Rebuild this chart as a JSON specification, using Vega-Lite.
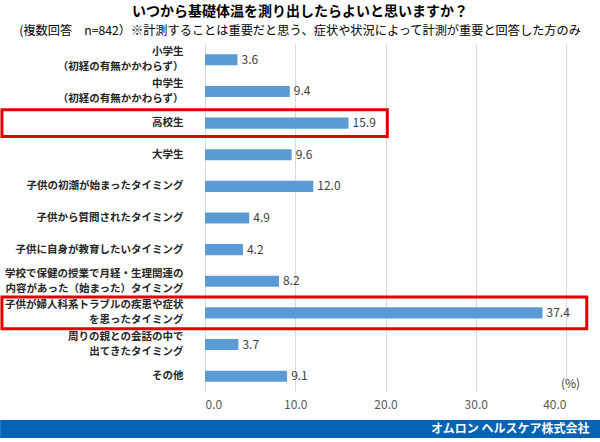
{
  "$schema": "https://vega.github.io/schema/vega-lite/v6.json",
  "background": "white",
  "padding": {"left": 0, "right": 0, "top": 4, "bottom": 4},
  "title": {
    "text": "いつから基礎体温を測り出したらよいと思いますか？",
    "subtitle": "(複数回答　n=842）※計測することは重要だと思う、症状や状況によって計測が重要と回答した方のみ",
    "anchor": "middle",
    "frame": "bounds",
    "font": "Noto Sans CJK JP",
    "fontSize": 14,
    "fontWeight": "bold",
    "color": "#000000",
    "subtitleFont": "Noto Sans CJK JP",
    "subtitleFontSize": 12.2,
    "subtitleColor": "#000000",
    "subtitlePadding": 6,
    "offset": 7
  },
  "config": {
    "font": "Noto Sans CJK JP",
    "view": {"stroke": null},
    "concat": {"spacing": 10}
  },
  "vconcat": [
    {
      "width": 361,
      "height": 348,
      "data": {
        "values": [
          {"label": "小学生|（初経の有無かかわらず）", "value": 3.6},
          {"label": "中学生|（初経の有無かかわらず）", "value": 9.4},
          {"label": "高校生", "value": 15.9},
          {"label": "大学生", "value": 9.6},
          {"label": "子供の初潮が始まったタイミング", "value": 12.0},
          {"label": "子供から質問されたタイミング", "value": 4.9},
          {"label": "子供に自身が教育したいタイミング", "value": 4.2},
          {"label": "学校で保健の授業で月経・生理関連の|内容があった（始まった）タイミング", "value": 8.2},
          {"label": "子供が婦人科系トラブルの疾患や症状|を患ったタイミング", "value": 37.4},
          {"label": "周りの親との会話の中で|出てきたタイミング", "value": 3.7},
          {"label": "その他", "value": 9.1}
        ]
      },
      "encoding": {
        "y": {
          "field": "label",
          "type": "nominal",
          "sort": null,
          "scale": {"paddingInner": 0, "paddingOuter": 0},
          "axis": {
            "title": null,
            "domain": false,
            "ticks": false,
            "grid": false,
            "labelPadding": 22,
            "labelFont": "Noto Sans CJK JP",
            "labelFontSize": 10.5,
            "labelFontWeight": "bold",
            "labelColor": "#262626",
            "labelLineHeight": 15,
            "labelLimit": 300,
            "labelOffset": {"condition": {"test": "indexof(datum.value, '|') >= 0", "value": -7.5}, "value": 0},
            "labelExpr": "split(datum.value, '|')"
          }
        }
      },
      "layer": [
        {
          "mark": {"type": "bar", "color": "#5B9BD5", "height": {"band": 0.35}},
          "encoding": {
            "x": {
              "field": "value",
              "type": "quantitative",
              "scale": {"domain": [0, 40], "nice": false, "zero": true},
              "axis": {
                "values": [0, 10, 20, 30, 40],
                "format": ".1f",
                "grid": true,
                "gridColor": "#d9d9d9",
                "domain": false,
                "ticks": false,
                "labelFont": "Noto Sans CJK JP",
                "labelFontSize": 12,
                "labelColor": "#595959",
                "labelPadding": 7,
                "title": "(%)",
                "titleFont": "Noto Sans CJK JP",
                "titleFontSize": 12,
                "titleFontWeight": "normal",
                "titleColor": "#404040",
                "titleAlign": "center",
                "titleBaseline": "middle",
                "titleX": 365,
                "titleY": -9
              }
            }
          }
        },
        {
          "mark": {"type": "text", "align": "left", "baseline": "middle", "dx": 4, "fontSize": 12, "color": "#404040"},
          "encoding": {
            "x": {"field": "value", "type": "quantitative"},
            "text": {"field": "value", "type": "quantitative", "format": ".1f"}
          }
        },
        {
          "transform": [{"filter": "datum.label == '高校生'"}],
          "mark": {"type": "rect", "filled": false, "stroke": "#E00000", "strokeWidth": 3, "height": {"band": 0.84}},
          "encoding": {
            "x": {"datum": -22.5, "type": "quantitative"},
            "x2": {"datum": 20.2}
          }
        },
        {
          "transform": [{"filter": "indexof(datum.label, '婦人科') >= 0"}],
          "mark": {"type": "rect", "filled": false, "stroke": "#E00000", "strokeWidth": 3, "height": {"band": 1.0}},
          "encoding": {
            "x": {"datum": -22.5, "type": "quantitative"},
            "x2": {"datum": 42.3}
          }
        }
      ]
    },
    {
      "width": 361,
      "height": 18,
      "data": {"values": [{"company": "オムロン ヘルスケア株式会社"}]},
      "layer": [
        {
          "mark": {"type": "rect", "color": "#0563B4"},
          "encoding": {
            "x": {"datum": -22.7, "type": "quantitative", "scale": {"domain": [0, 40], "nice": false, "zero": true}, "axis": null},
            "x2": {"datum": 43.77},
            "y": {"value": 0},
            "y2": {"value": "height"}
          }
        },
        {
          "mark": {"type": "text", "align": "right", "baseline": "middle", "color": "white", "fontWeight": "bold", "fontSize": 12},
          "encoding": {
            "x": {"datum": 42.6, "type": "quantitative"},
            "text": {"field": "company", "type": "nominal"}
          }
        }
      ]
    }
  ]
}
